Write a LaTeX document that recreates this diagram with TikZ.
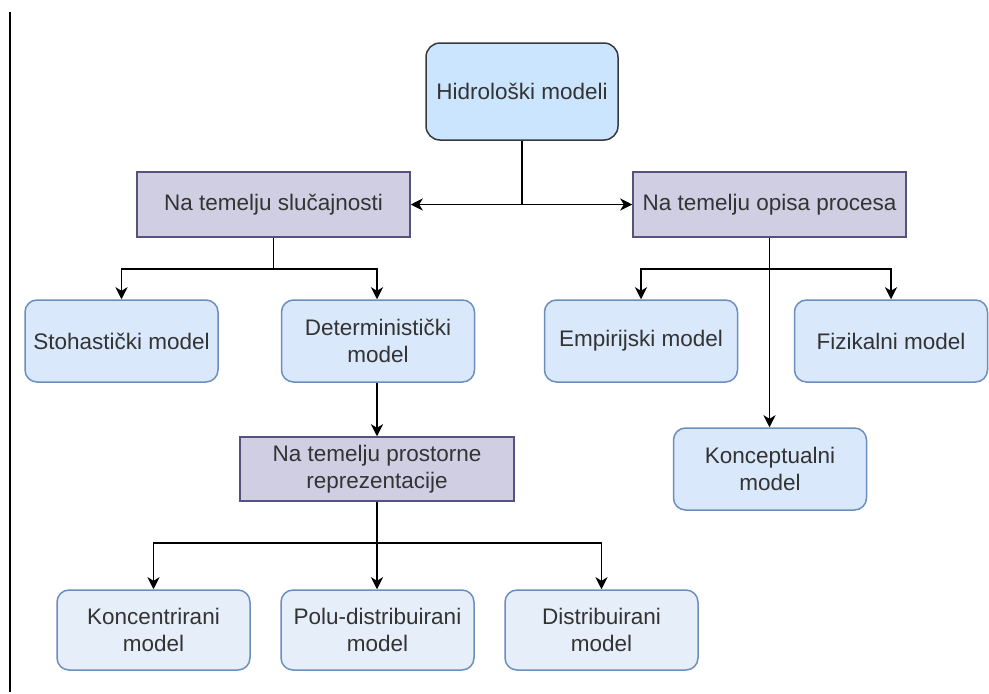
\documentclass[tikz,border=0pt]{standalone}
\usepackage{fontspec}
\setmainfont{Liberation Sans}
\usetikzlibrary{arrows.meta}
\definecolor{txt}{HTML}{333333}
\definecolor{topfill}{HTML}{CCE5FF}
\definecolor{topdraw}{HTML}{36393D}
\definecolor{purfill}{HTML}{D0CEE2}
\definecolor{purdraw}{HTML}{56517E}
\definecolor{bluefill}{HTML}{DAE8FC}
\definecolor{lightfill}{HTML}{E6EEFA}
\definecolor{bluedraw}{HTML}{6C8EBF}
\tikzset{
  box/.style={minimum width=#1, inner sep=0pt, text=txt, align=center,
    font=\fontsize{22.5}{27}\selectfont, line width=1.5pt},
  topbox/.style={box=192pt, minimum height=97pt, rounded corners=14pt, fill=topfill, draw=topdraw},
  catbox/.style={box=273pt, minimum height=65pt, fill=purfill, draw=purdraw},
  modbox/.style={box=193pt, minimum height=82pt, rounded corners=12pt, fill=bluefill, draw=bluedraw},
  lowbox/.style={box=193pt, minimum height=80pt, rounded corners=12pt, fill=lightfill, draw=bluedraw},
  arr/.style={line width=1.8pt, black, -{Stealth[length=12pt,width=12pt,inset=3.5pt]}},
}
\begin{document}
\begin{tikzpicture}[x=1pt,y=-1pt]
\useasboundingbox (0,0) rectangle (989,694);
\draw[line width=1.6pt] (10,12) -- (10,692);

\node[topbox] (hm) at (522,91.5) {Hidrološki modeli};
\node[catbox] (ns) at (273.5,204.5) {Na temelju slučajnosti};
\node[catbox] (no) at (769.5,204.5) {Na temelju opisa procesa};
\node[modbox] (sto) at (121.5,341) {Stohastički model};
\node[modbox] (det) at (378,341) {Deterministički\\model};
\node[modbox] (emp) at (641,341) {Empirijski model};
\node[modbox] (fiz) at (891,341) {Fizikalni model};
\node[modbox] (kon) at (770,469) {Konceptualni\\model};
\node[catbox, minimum width=274pt, minimum height=64pt] (npr) at (377,469) {Na temelju prostorne\\reprezentacije};
\node[lowbox] (konc) at (153.5,630) {Koncentrirani\\model};
\node[lowbox] (polu) at (377.5,630) {Polu-distribuirani\\model};
\node[lowbox] (dist) at (601.5,630) {Distribuirani\\model};

\draw[arr] (hm.south) |- (ns.east);
\draw[arr] (hm.south) |- (no.west);

\draw[arr] (ns.south) -- ([yshift=-31pt]ns.south) -| (sto.north);
\draw[arr] ([yshift=-31pt]ns.south) -| ([xshift=-1pt]det.north);

\draw[arr] (no.south) -- (no.south |- kon.north);
\draw[arr] ([yshift=-31pt]no.south) -| (emp.north);
\draw[arr] ([yshift=-31pt]no.south) -| (fiz.north);

\draw[arr] (det.south -| npr.north) -- (npr.north);

\draw[arr] (npr.south) -- ([yshift=-41pt]npr.south) -| (konc.north);
\draw[arr] (npr.south) -- (npr.south |- polu.north);
\draw[arr] ([yshift=-41pt]npr.south) -| (dist.north);
\end{tikzpicture}
\end{document}
